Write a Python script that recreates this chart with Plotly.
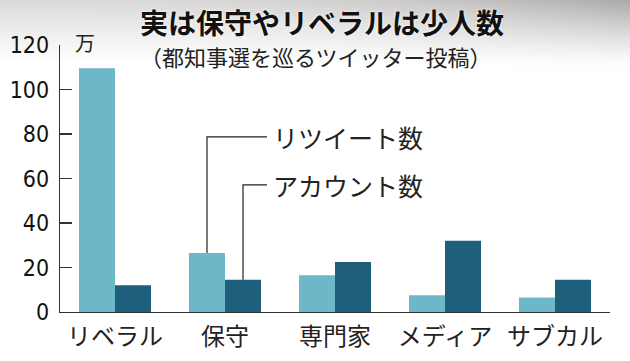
import plotly.graph_objects as go

categories = ["リベラル", "保守", "専門家", "メディア", "サブカル"]
retweets = [109.5, 26.5, 16.5, 7.5, 6.5]
accounts = [12.0, 14.5, 22.5, 32.0, 14.5]
ytick_vals = [0, 20, 40, 60, 80, 100, 120]
series_names = ["リツイート数", "アカウント数"]

title = "実は保守やリベラルは少人数"
subtitle = "（都知事選を巡るツイッター投稿）"
unit = "万"

LIGHT = "#6db8c8"
DARK = "#1f5f7c"
JP = "Noto Sans CJK JP"
NUM = "Liberation Sans Narrow, DejaVu Sans Condensed, Liberation Sans, Arial"

W, H = 630, 361
PL, PR, PT, PB = 60, 610, 45, 312   # plot area in pixels


def fx(px):
    return px / W


def fy(py):
    return 1 - py / H


fig = go.Figure()

# decorative background gradient at the top (full-figure axes x/y)
gx = [i * 63 for i in range(11)]
gy = [i * 8 for i in range(10)]
gz = []
for yv in gy:
    row = []
    for xv in gx:
        t = max(0.0, 1 - yv / 66)
        row.append(t ** 1.2 * (0.35 + 0.45 * (xv / W) ** 2.5))
    gz.append(row)
fig.add_heatmap(x=gx, y=gy, z=gz, zmin=0, zmax=1, zsmooth="best", showscale=False, hoverinfo="skip",
                colorscale=[[0, "rgb(255,255,255)"], [1, "rgb(150,148,146)"]], xaxis="x", yaxis="y")

fig.add_bar(x=categories, y=retweets, name=series_names[0], xaxis="x2", yaxis="y2",
            marker=dict(color=LIGHT, line=dict(width=0)))
fig.add_bar(x=categories, y=accounts, name=series_names[1], xaxis="x2", yaxis="y2",
            marker=dict(color=DARK, line=dict(width=0)))

# leader lines
bargap = 0.345
bw = (1 - bargap) / 2
idx = 1
label_y = [78.7, 57.1]
x_end = idx + 0.382
shapes = []
for k, vals in enumerate([retweets, accounts]):
    xc = idx - bw / 2 + k * bw
    shapes.append(dict(type="path", xref="x2", yref="y2",
                       path=f"M {xc},{vals[idx]} L {xc},{label_y[k]} L {x_end},{label_y[k]}",
                       line=dict(color="#222", width=1.2)))

annotations = [
    dict(text=f"<b>{title}</b>", x=fx(322), y=fy(22), xref="paper", yref="paper",
         showarrow=False, font=dict(family=JP, size=28, color="#111", shadow="0px 0px 3px white"),
         xanchor="center", yanchor="middle"),
    dict(text=subtitle, x=fx(316), y=fy(56), xref="paper", yref="paper",
         showarrow=False, font=dict(family=JP, size=22, color="#222"), xanchor="center", yanchor="middle"),
    dict(text=unit, x=fx(85), y=fy(43), xref="paper", yref="paper",
         showarrow=False, font=dict(family=JP, size=20, color="#222"), xanchor="center", yanchor="middle"),
]
for k in range(2):
    annotations.append(dict(text=series_names[k], x=x_end + 0.04, y=label_y[k], xref="x2", yref="y2",
                            showarrow=False, font=dict(family=JP, size=25, color="#222"),
                            xanchor="left", yanchor="middle"))

fig.update_layout(
    width=W, height=H,
    margin=dict(l=0, r=0, t=0, b=0),
    paper_bgcolor="white", plot_bgcolor="rgba(0,0,0,0)",
    barmode="group", bargap=bargap, bargroupgap=0,
    showlegend=False, hovermode=False,
    shapes=shapes, annotations=annotations,
    xaxis=dict(domain=[0, 1], range=[0, W], visible=False, fixedrange=True),
    yaxis=dict(domain=[0, 1], range=[H, 0], visible=False, fixedrange=True),
    xaxis2=dict(domain=[fx(PL), fx(PR)], anchor="y2", range=[-0.5, 4.5], showline=True, linecolor="#333",
                linewidth=1.2, ticks="", showgrid=False, automargin=False, ticklabelstandoff=3,
                tickfont=dict(family=JP, size=24, color="#222"), fixedrange=True),
    yaxis2=dict(domain=[fy(PB), fy(PT)], anchor="x2", range=[0, 120], tickvals=ytick_vals, showline=True,
                linecolor="#333", linewidth=1.2, ticks="inside", ticklen=12, tickcolor="#333", tickwidth=1.2,
                showgrid=False, zeroline=False, automargin=False, ticklabelstandoff=5, fixedrange=True,
                tickfont=dict(family=NUM, size=23, color="#111")),
)

fig.write_html("out.html", config={"displayModeBar": False, "staticPlot": True},
               post_script="document.body.style.margin='0';document.body.style.overflow='hidden';")
